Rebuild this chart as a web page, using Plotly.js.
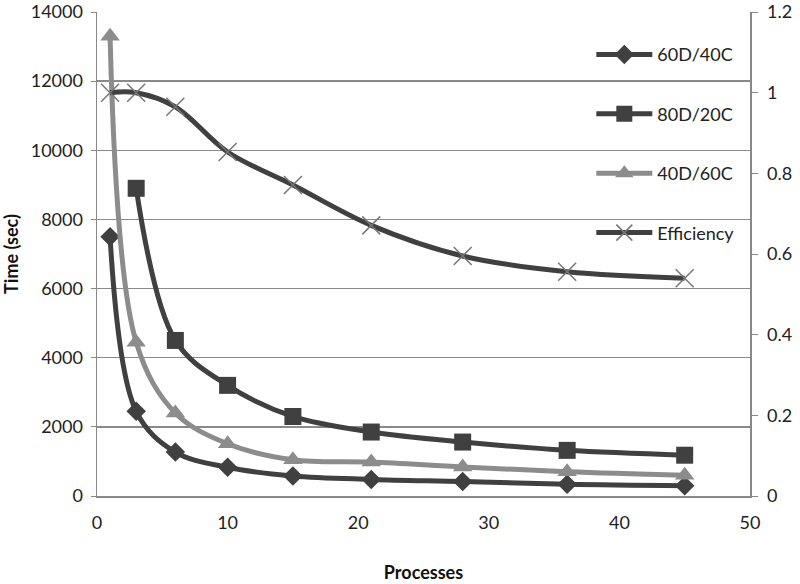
<!DOCTYPE html>
<html>
<head>
<meta charset="utf-8">
<script src="https://cdn.plot.ly/plotly-3.0.1.min.js"></script>
<style>html,body{margin:0;padding:0;background:#fff;}#chart{width:800px;height:584px;}</style>
</head>
<body>
<div id="chart"></div>
<script>
// Data
var processes = [1, 3, 6, 10, 15, 21, 28, 36, 45];
var processes80 = [3, 6, 10, 15, 21, 28, 36, 45];
var time60D40C = [7500, 2450, 1270, 830, 580, 480, 420, 340, 300];
var time80D20C = [8900, 4500, 3200, 2300, 1850, 1560, 1320, 1180];
var time40D60C = [13300, 4450, 2400, 1510, 1050, 980, 840, 700, 600];
var efficiency = [1.0, 1.0, 0.965, 0.853, 0.771, 0.671, 0.595, 0.556, 0.540];
var seriesNames = ['60D/40C', '80D/20C', '40D/60C', 'Efficiency'];
var leftTicks = [0, 2000, 4000, 6000, 8000, 10000, 12000, 14000];
var rightTicks = [0, 0.2, 0.4, 0.6, 0.8, 1, 1.2];
var xTicks = [0, 10, 20, 30, 40, 50];

var dark = '#404040', light = '#8c8c8c';
var fontFam = 'Lato, "Open Sans", sans-serif';

var traces = [
  {x: processes, y: time60D40C, name: seriesNames[0], legendgroup: 'a', type: 'scatter', mode: 'lines+markers',
   line: {color: dark, width: 5, shape: 'spline', smoothing: 1},
   marker: {symbol: 'diamond', size: 15, color: dark}},
  {x: processes80, y: time80D20C, name: seriesNames[1], legendgroup: 'b', type: 'scatter', mode: 'lines+markers',
   line: {color: dark, width: 5, shape: 'spline', smoothing: 1},
   marker: {symbol: 'square', size: 17, color: dark}},
  {x: processes, y: time40D60C, name: seriesNames[2], legendgroup: 'c', type: 'scatter', mode: 'lines+markers',
   line: {color: light, width: 5, shape: 'spline', smoothing: 1},
   marker: {symbol: 'triangle-up', size: 17, color: light}},
  {x: processes, y: efficiency, name: seriesNames[3], legendgroup: 'd', yaxis: 'y2', type: 'scatter', mode: 'lines+markers',
   line: {color: dark, width: 5, shape: 'spline', smoothing: 1},
   marker: {symbol: 'x-thin-open', size: 18, color: '#777777', line: {width: 1.5, color: '#777777'}}}
];

var layout = {
  width: 800, height: 584,
  margin: {l: 97, r: 50, t: 12, b: 88},
  paper_bgcolor: '#fff', plot_bgcolor: '#fff',
  font: {family: fontFam, size: 18, color: '#222'},
  showlegend: true,
  legend: {x: 0.757, y: 0.95, xanchor: 'left', yanchor: 'top', bgcolor: 'rgba(0,0,0,0)',
           font: {family: fontFam, size: 18, color: '#222'}, tracegroupgap: 33, itemwidth: 56},
  xaxis: {range: [0, 50.001], tickvals: xTicks, ticktext: xTicks.map(String), showgrid: false, zeroline: false,
          showline: true, linecolor: '#888', linewidth: 1.5, ticks: '', ticklabelstandoff: 10,
          title: {text: 'Processes', font: {family: fontFam, size: 18, color: '#111', weight: 'bold'}, standoff: 34}},
  yaxis: {range: [0, 14000.01], tickvals: leftTicks, ticktext: leftTicks.map(String), showgrid: true, gridcolor: '#8a8a8a', gridwidth: 1.5,
          zeroline: false, showline: true, linecolor: '#888', linewidth: 1.5, ticks: 'outside', ticklen: 5, tickcolor: '#888',
          ticklabelstandoff: 4,
          title: {text: 'Time (sec)', font: {family: fontFam, size: 18, color: '#111', weight: 'bold'}, standoff: 10}},
  yaxis2: {range: [0, 1.20001], overlaying: 'y', side: 'right', tickvals: rightTicks, ticktext: rightTicks.map(String), showgrid: false,
           zeroline: false, showline: true, linecolor: '#888', linewidth: 1.5, ticks: 'outside', ticklen: 6, tickcolor: '#888',
           ticklabelstandoff: 6}
};

Plotly.newPlot('chart', traces, layout, {displayModeBar: false, staticPlot: true});
</script>
</body>
</html>
